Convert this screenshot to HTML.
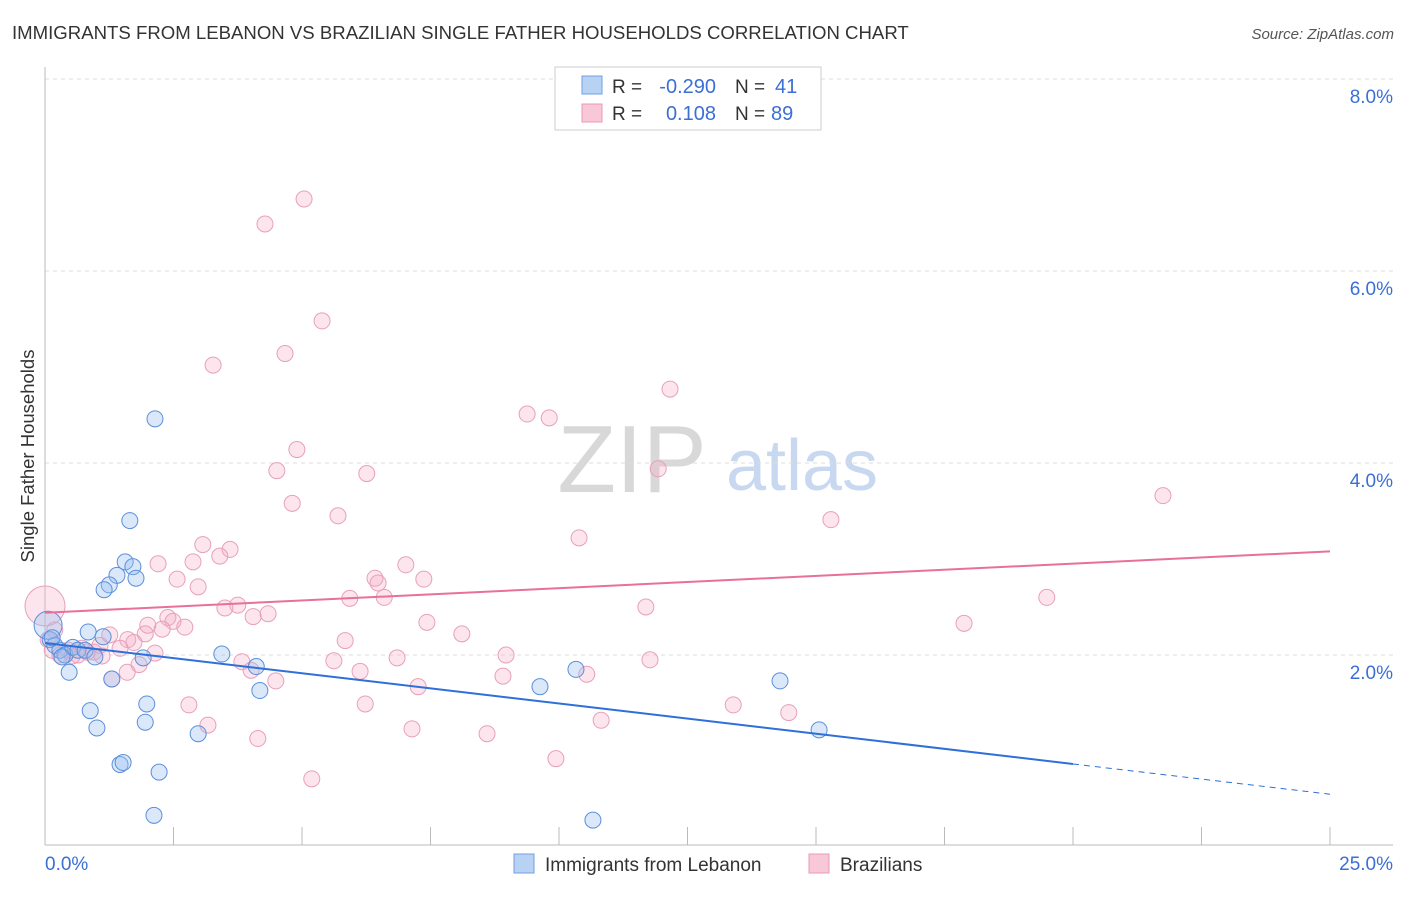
<!DOCTYPE html>
<html><head><meta charset="utf-8"><style>
body{margin:0;background:#fff;font-family:"Liberation Sans",sans-serif;}
svg text{font-family:"Liberation Sans",sans-serif;}
</style></head><body>
<svg id="chart" width="1406" height="892" xmlns="http://www.w3.org/2000/svg">
<text x="12" y="39" font-size="18.6" fill="#333">IMMIGRANTS FROM LEBANON VS BRAZILIAN SINGLE FATHER HOUSEHOLDS CORRELATION CHART</text>
<text x="1394" y="39" font-size="15" fill="#555" font-style="italic" text-anchor="end">Source: ZipAtlas.com</text>
<text x="0" y="0" transform="translate(34,456) rotate(-90)" font-size="18.5" fill="#333" text-anchor="middle">Single Father Households</text>
<g><text x="632" y="492" font-size="96" fill="#d8d8d8" font-family="Liberation Serif" text-anchor="middle">ZIP</text><text x="802" y="490" font-size="72" fill="#c8d8f0" text-anchor="middle">atlas</text></g>
<g id="grid"></g><g id="axes"></g><g id="marks"></g>
<g>
<rect x="555" y="67" width="266" height="63" fill="#fff" stroke="#ccc"/>
<rect x="582" y="76" width="20" height="18" fill="#b8d2f4" stroke="#6fa0e0"/>
<rect x="582" y="104" width="20" height="18" fill="#f9c8d8" stroke="#e89ab5"/>
<text x="612" y="93" font-size="19" fill="#333">R =</text>
<text x="716" y="93" font-size="20" fill="#3b6fd4" text-anchor="end">-0.290</text>
<text x="735" y="93" font-size="19" fill="#333">N =</text>
<text x="775" y="93" font-size="20" fill="#3b6fd4">41</text>
<text x="612" y="120" font-size="19" fill="#333">R =</text>
<text x="716" y="120" font-size="20" fill="#3b6fd4" text-anchor="end">0.108</text>
<text x="735" y="120" font-size="19" fill="#333">N =</text>
<text x="771" y="120" font-size="20" fill="#3b6fd4">89</text>
</g>
<g>
<rect x="514" y="854" width="20" height="19" fill="#b8d2f4" stroke="#6fa0e0"/>
<text x="545" y="871" font-size="19" fill="#333">Immigrants from Lebanon</text>
<rect x="809" y="854" width="20" height="19" fill="#f9c8d8" stroke="#e89ab5"/>
<text x="840" y="871" font-size="19" fill="#333">Brazilians</text>
</g>
</svg>
<script>
const yTicks=[2,4,6,8];
const yTickLabels=["2.0%","4.0%","6.0%","8.0%"];
const xTicks=[0,2.5,5,7.5,10,12.5,15,17.5,20,22.5,25];
const xEndLabels=["0.0%","25.0%"];
const blueX=[2.14,1.65,1.56,1.71,1.40,1.77,1.25,1.15,0.84,1.13,0.10,0.19,0.29,0.39,0.54,0.64,0.78,0.97,0.33,1.91,3.44,4.11,0.47,1.30,4.18,1.98,0.88,1.95,1.01,2.98,1.46,1.52,2.22,2.12,10.66,9.63,10.33,14.30,15.06,0.06,0.14];
const blueY=[4.46,3.40,2.97,2.92,2.83,2.80,2.73,2.68,2.24,2.19,2.16,2.10,2.05,2.00,2.08,2.05,2.05,1.98,1.98,1.97,2.01,1.88,1.82,1.75,1.63,1.49,1.42,1.30,1.24,1.18,0.86,0.88,0.78,0.33,0.28,1.67,1.85,1.73,1.22,2.31,2.18];
const pinkX=[5.04,4.28,5.39,4.67,3.27,12.16,9.38,9.81,4.90,4.51,11.93,6.26,4.81,5.70,21.75,15.29,10.39,3.07,3.60,2.20,2.88,3.40,7.02,6.42,6.48,7.37,2.57,2.98,6.60,5.93,19.49,3.75,3.50,11.69,2.39,2.49,2.00,2.72,4.05,4.34,7.43,17.88,2.28,8.11,5.84,1.95,1.26,1.61,1.73,1.46,0.95,1.11,0.72,0.45,0.53,2.14,8.97,6.85,3.83,5.62,11.77,4.01,6.13,10.54,1.83,1.60,1.30,8.91,4.49,7.26,2.80,6.23,13.39,14.47,3.17,10.82,7.14,8.60,4.14,9.94,5.19,0,0.06,0.19,0.14,1.07,0.82,0.64,0.29];
const pinkY=[6.75,6.49,5.48,5.14,5.02,4.77,4.51,4.47,4.14,3.92,3.94,3.89,3.58,3.45,3.66,3.41,3.22,3.15,3.10,2.95,2.97,3.03,2.94,2.80,2.75,2.79,2.79,2.71,2.60,2.59,2.60,2.52,2.49,2.50,2.39,2.35,2.31,2.29,2.40,2.43,2.34,2.33,2.27,2.22,2.15,2.22,2.21,2.16,2.13,2.07,2.03,1.99,2.07,2.05,1.99,2.02,2.00,1.97,1.93,1.94,1.95,1.84,1.83,1.80,1.90,1.82,1.75,1.78,1.73,1.67,1.48,1.49,1.48,1.40,1.27,1.32,1.23,1.18,1.13,0.92,0.71,2.51,2.16,2.26,2.05,2.10,2.03,2.00,2.00];
const blueTrend=[2.125,0.865,0.55]; // at x=0,20,25
const pinkTrend=[2.44,3.08]; // at x=0,25
const NS="http://www.w3.org/2000/svg";
const X=v=>45+v*51.4, Y=v=>847-v*96;
function mk(tag,attrs,parent){const e=document.createElementNS(NS,tag);for(const k in attrs)e.setAttribute(k,attrs[k]);parent.appendChild(e);return e;}
const grid=document.getElementById('grid'),axes=document.getElementById('axes'),marks=document.getElementById('marks');
yTicks.forEach((t,i)=>{
 const l=mk('line',{x1:45,x2:1393,y1:Y(t),y2:Y(t),stroke:'#ddd','stroke-dasharray':'4,4'},grid);
 
 
 const tx=mk('text',{x:1393,y:Y(t)+24,'font-size':19,fill:'#3b6fd4','text-anchor':'end'},axes);
 tx.textContent=yTickLabels[i];
 
 
});
const ax=mk('line',{x1:45,x2:1393,y1:845,y2:845,stroke:'#bbb'},axes);


const ay=mk('line',{x1:45,x2:45,y1:67,y2:845,stroke:'#bbb'},axes);


xTicks.forEach(t=>{const l=mk('line',{x1:X(t),x2:X(t),y1:827,y2:845,stroke:'#bbb'},axes);
 
 });
const xl0=mk('text',{x:45,y:870,'font-size':19,fill:'#3b6fd4'},axes);xl0.textContent=xEndLabels[0];


const xl1=mk('text',{x:1393,y:870,'font-size':19,fill:'#3b6fd4','text-anchor':'end'},axes);xl1.textContent=xEndLabels[1];


pinkX.forEach((v,i)=>{const c=mk('circle',{cx:X(v),cy:Y(pinkY[i]),r:(v===0?20:8),fill:'rgba(244,170,196,0.3)',stroke:'#e8a0ba','stroke-width':1},marks);
 
 });
blueX.forEach((v,i)=>{const c=mk('circle',{cx:X(v),cy:Y(blueY[i]),r:(i===39?14:8),fill:'rgba(150,190,240,0.35)',stroke:'#5b8fdb','stroke-width':1},marks);
 
 });
const bt=mk('line',{x1:X(0),y1:Y(blueTrend[0]),x2:X(20),y2:Y(blueTrend[1]),stroke:'#2e6fd8','stroke-width':2},marks);


const bd=mk('line',{x1:X(20),y1:Y(blueTrend[1]),x2:X(25),y2:Y(blueTrend[2]),stroke:'#2e6fd8','stroke-width':1,'stroke-dasharray':'6,5'},marks);


const pt=mk('line',{x1:X(0),y1:Y(pinkTrend[0]),x2:X(25),y2:Y(pinkTrend[1]),stroke:'#e8709a','stroke-width':2},marks);


</script>
</body></html>
